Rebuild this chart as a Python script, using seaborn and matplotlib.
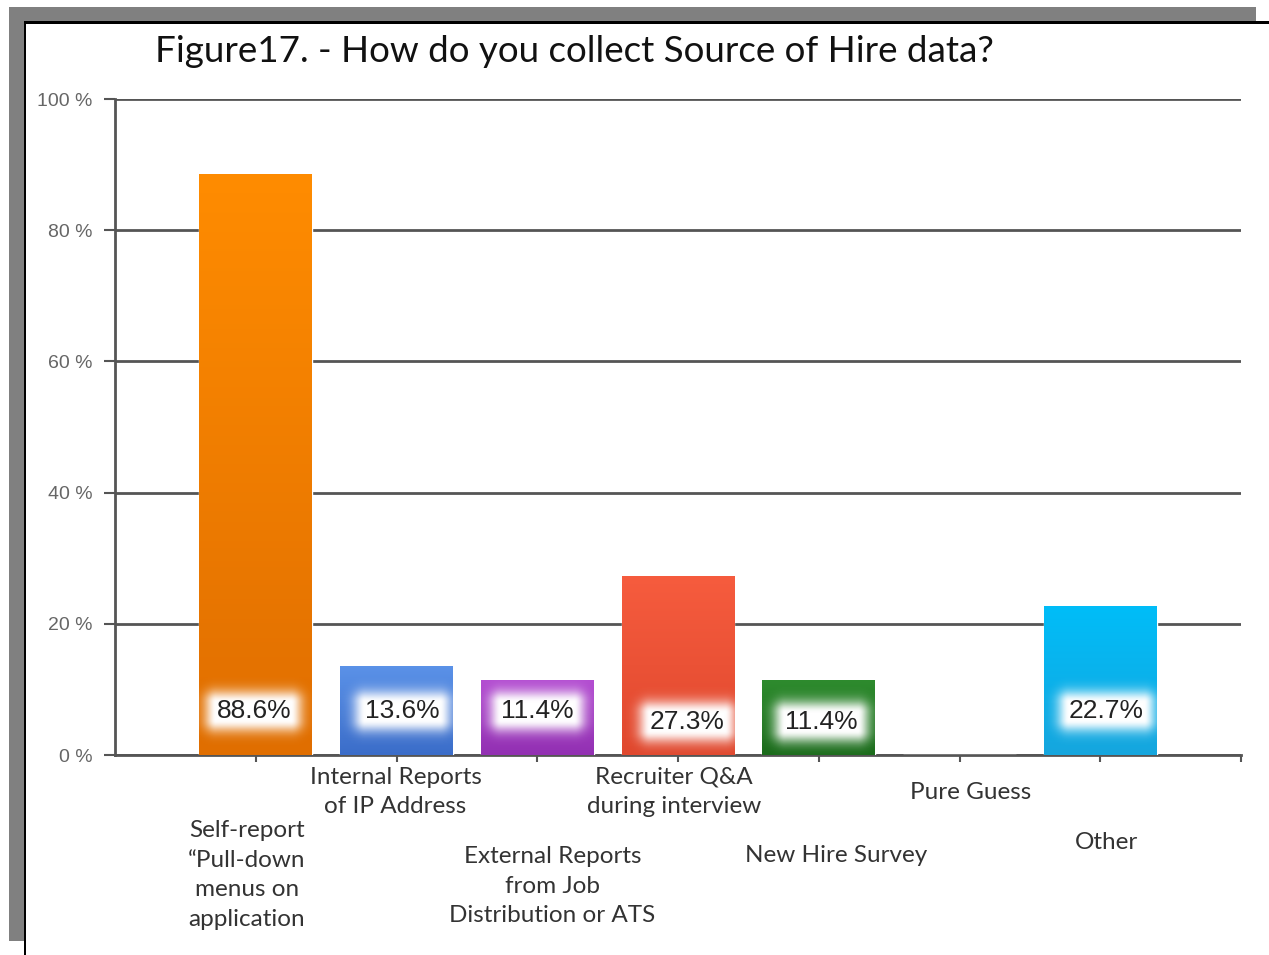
import numpy as np
import matplotlib
matplotlib.use("Agg")
import matplotlib.pyplot as plt
from matplotlib.patches import Rectangle
from matplotlib.colors import LinearSegmentedColormap
import seaborn as sns

# ---- data ----
categories = [
    "Self-report\n\u201cPull-down\nmenus on\napplication",
    "Internal Reports\nof IP Address",
    "External Reports\nfrom Job\nDistribution or ATS",
    "Recruiter Q&A\nduring interview",
    "New Hire Survey",
    "Pure Guess",
    "Other",
]
values = [88.6, 13.6, 11.4, 27.3, 11.4, 0.0, 22.7]
value_labels = ["88.6%", "13.6%", "11.4%", "27.3%", "11.4%", "", "22.7%"]
yticks = [0, 20, 40, 60, 80, 100]
title = "Figure17. - How do you collect Source of Hire data?"

# ---- styling ----
top_colors = ["#FF8C00", "#5B92E8", "#B44ED2", "#F65C3E", "#2E8B2E", "#FFFFFF", "#00BDF8"]
bot_colors = ["#E06E00", "#3B6DC9", "#9230B2", "#E0482E", "#1B6B1B", "#FFFFFF", "#16A6DE"]
# label layout (pixel offsets of tick labels: dx, dy from tick at y=0)
xlab_off = [(-9, -120), (-1, -37), (15, -131), (-4, -37), (17, -100), (11, -37), (6, -87)]
val_off = [(-2, 44), (6, 44), (0, 44), (9, 33), (3, 33), (0, 44), (6, 44)]

W, H = 1269, 955
sns.set_theme(style="white")
plt.rcParams["font.family"] = ["Lato", "DejaVu Sans"]

fig = plt.figure(figsize=(W / 100, H / 100), dpi=100)
fig.patch.set_facecolor("white")

# frame (gray screenshot border + black line)
def px_rect(x0, y0, x1, y1, color):
    fig.add_artist(Rectangle((x0 / W, 1 - y1 / H), (x1 - x0) / W, (y1 - y0) / H,
                             transform=fig.transFigure, facecolor=color,
                             edgecolor="none", zorder=-5))
px_rect(9, 7, 1256, 22, "#808080")
px_rect(9, 7, 24, 941, "#808080")
px_rect(24, 21.5, W, 23.8, "#000000")
px_rect(24, 21.5, 26.3, H, "#000000")

ax = fig.add_axes([115 / W, 1 - 755 / H, (1241 - 115) / W, (755 - 99) / H])
ax.set_facecolor("white")

sns.barplot(x=list(range(len(categories))), y=values, hue=list(range(len(categories))),
            palette=top_colors, legend=False, width=0.8, saturation=1, ax=ax,
            native_scale=True, zorder=3)

ax.set_xlim(-1, 7)
ax.set_ylim(0, 100)

# gradient fill for bars
for i, patch in enumerate(list(ax.patches)):
    x0, y0 = patch.get_x(), patch.get_y()
    w, h = patch.get_width(), patch.get_height()
    if h <= 0:
        continue
    cmap = LinearSegmentedColormap.from_list("g", [bot_colors[i], top_colors[i]])
    grad = np.linspace(0, 1, 256).reshape(-1, 1)
    im = ax.imshow(grad, extent=(x0, x0 + w, y0, y0 + h), origin="lower",
                   cmap=cmap, aspect="auto", zorder=3.5)
    im.set_clip_path(patch)
ax.set_xlim(-1, 7)
ax.set_ylim(0, 100)
ax.set_aspect("auto")

# grid + axes
ax.set_yticks(yticks)
ax.set_yticklabels([f"{t} %" for t in yticks], color="#666666",
                   fontsize=14, family="Liberation Sans")
ax.yaxis.grid(True, color="#555555", linewidth=2, zorder=0)
ax.set_axisbelow(True)
ax.tick_params(axis="y", length=8, width=1.5, color="#555555", pad=8, left=True)
ax.set_xticks(list(range(len(categories))) + [7])
ax.set_xticklabels([""] * (len(categories) + 1))
ax.tick_params(axis="x", length=5, width=1.5, color="#555555", bottom=True)
for s in ["top", "right"]:
    ax.spines[s].set_visible(False)
for s in ["left", "bottom"]:
    ax.spines[s].set_color("#555555")
    ax.spines[s].set_linewidth(2)
ax.set_xlabel("")
ax.set_ylabel("")

# category labels
for i, lab in enumerate(categories):
    dx, dy = xlab_off[i]
    ax.annotate(lab, xy=(i, 0), xycoords="data", xytext=(dx, dy),
                textcoords="offset pixels", ha="center", va="center",
                fontsize=17.5, color="#333333", linespacing=1.5,
                annotation_clip=False)

# value labels
texts = []
for i, lab in enumerate(value_labels):
    if not lab:
        continue
    dx, dy = val_off[i]
    t = ax.annotate(lab, xy=(i, 0), xycoords="data", xytext=(dx, dy),
                    textcoords="offset pixels", ha="center", va="center",
                    fontsize=19, color="#222222", family="Liberation Sans",
                    zorder=6)
    texts.append(t)

# soft white glow behind value labels
fig.canvas.draw()
renderer = fig.canvas.get_renderer()
inv = ax.transData.inverted()
pad = 24
for t in texts:
    bb = t.get_window_extent(renderer)
    x0p, x1p = bb.x0 - pad, bb.x1 + pad
    y0p, y1p = bb.y0 - pad + 2, bb.y1 + pad - 2
    nx, ny = int(x1p - x0p), int(y1p - y0p)
    xs = np.linspace(x0p, x1p, nx)
    ys = np.linspace(y0p, y1p, ny)
    X, Y = np.meshgrid(xs, ys)
    cx, cy = (bb.x0 + bb.x1) / 2, (bb.y0 + bb.y1) / 2
    a = bb.width / 2
    b = bb.height / 2 - 3
    d = np.hypot(np.maximum(0, np.abs(X - cx) - a), np.maximum(0, np.abs(Y - cy) - b))
    alpha = np.exp(-(d / 12.0) ** 2)
    rgba = np.ones((ny, nx, 4))
    rgba[..., 3] = alpha
    (dx0, dy0) = inv.transform((x0p, y0p))
    (dx1, dy1) = inv.transform((x1p, y1p))
    ax.imshow(rgba, extent=(dx0, dx1, dy0, dy1), origin="lower",
              aspect="auto", zorder=5, interpolation="bilinear")
ax.set_xlim(-1, 7)
ax.set_ylim(0, 100)
ax.set_aspect("auto")

fig.text(155 / W, 1 - 52 / H, title, ha="left", va="center", fontsize=26.5,
         color="#111111")

fig.savefig("out.png", dpi=100)
